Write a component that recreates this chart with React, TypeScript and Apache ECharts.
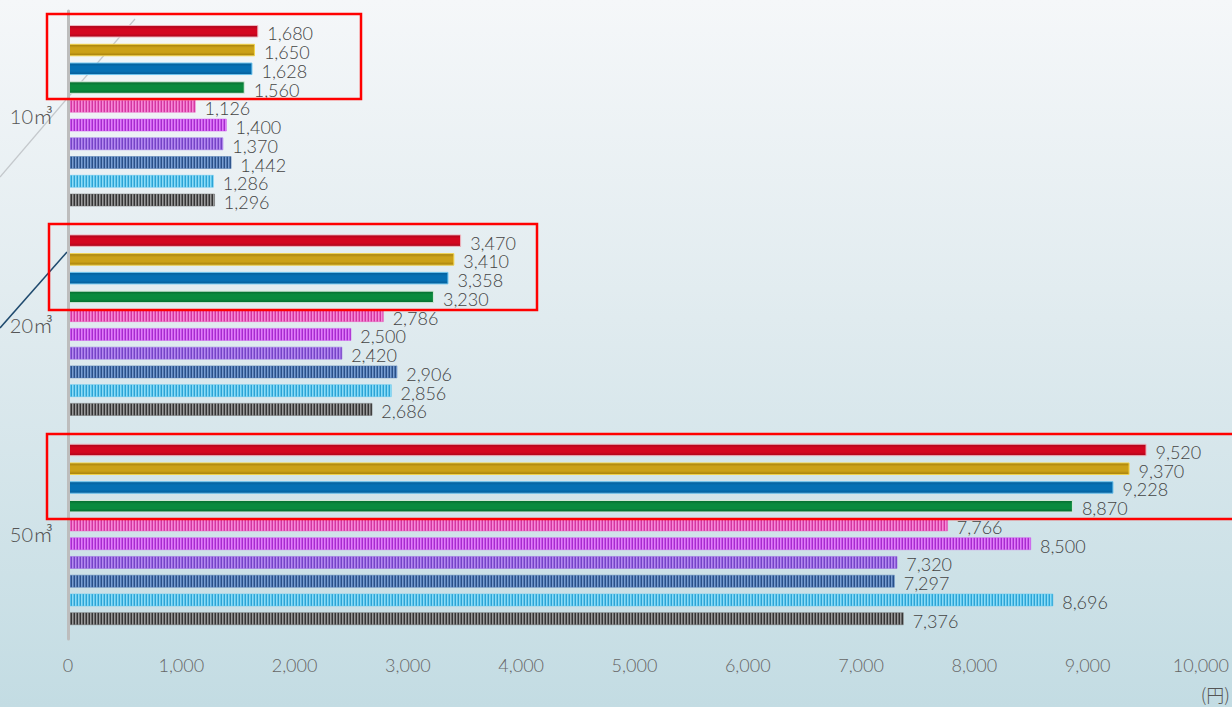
import React, { useEffect, useRef } from "react";
import * as echarts from "echarts";

const categories = ["10㎥", "20㎥", "50㎥"];
const xTicks = [0, 1000, 2000, 3000, 4000, 5000, 6000, 7000, 8000, 9000, 10000];

// one array per bar (top to bottom within each group): values for 10㎥, 20㎥, 50㎥
const barRed = [1680, 3470, 9520];
const barGold = [1650, 3410, 9370];
const barBlue = [1628, 3358, 9228];
const barGreen = [1560, 3230, 8870];
const barPink = [1126, 2786, 7766];
const barMagenta = [1400, 2500, 8500];
const barPurple = [1370, 2420, 7320];
const barNavy = [1442, 2906, 7297];
const barSky = [1286, 2856, 8696];
const barGray = [1296, 2686, 7376];

const unitLabel = "(円)";

const fmt = (v: number) => Number(v).toLocaleString("en-US");

const solidStyles = [
  { data: barRed, c: "#d3061f", d: "#a8041a", b: "#efb8c2" },
  { data: barGold, c: "#cba118", d: "#a07c0c", b: "#f3d34a" },
  { data: barBlue, c: "#0670b4", d: "#055c96", b: "#6cc3ee" },
  { data: barGreen, c: "#0a8a3e", d: "#066a2e", b: "#d8ecdc" },
];
const stripedStyles = [
  { data: barPink, c: "#f58ad6", m: "#ea62c2", s: "#d2379f" },
  { data: barMagenta, c: "#de80f6", m: "#cc55ee", s: "#a62ccc" },
  { data: barPurple, c: "#b48cef", m: "#9a66e2", s: "#7444c4" },
  { data: barNavy, c: "#7a9ed0", m: "#4f78b2", s: "#2a4f86" },
  { data: barSky, c: "#8edcf6", m: "#5cc6ee", s: "#2ea2d2" },
  { data: barGray, c: "#9a9a9a", m: "#6a6a6a", s: "#333333" },
];

const labelStyle = {
  show: true,
  position: "right" as const,
  distance: 9,
  offset: [0, 2],
  formatter: (p: any) => fmt(p.value),
  fontFamily: "Lato, 'Noto Sans', sans-serif",
  fontWeight: 300,
  fontSize: 18,
  color: "#444444",
};

function stripeCanvas(c: string, m: string, s: string) {
  const cv = document.createElement("canvas");
  cv.width = 3;
  cv.height = 16;
  const ctx = cv.getContext("2d")!;
  ctx.fillStyle = c;
  ctx.fillRect(0, 0, 1, 16);
  ctx.fillStyle = m;
  ctx.fillRect(1, 0, 1, 16);
  ctx.fillStyle = s;
  ctx.fillRect(2, 0, 1, 16);
  return cv;
}

export default function App() {
  const ref = useRef<HTMLDivElement>(null);
  useEffect(() => {
    document.body.style.margin = "0";
    if (!ref.current) return;
    const chart = echarts.init(ref.current, null, { renderer: "svg" });
    const series: any[] = [];
    solidStyles.forEach((s, i) => {
      series.push({
        type: "bar",
        name: "s" + i,
        data: s.data,
        barWidth: 12.5,
        barGap: "50%",
        itemStyle: {
          color: new echarts.graphic.LinearGradient(0, 0, 0, 1, [
            { offset: 0, color: s.d },
            { offset: 0.3, color: s.c },
            { offset: 0.7, color: s.c },
            { offset: 1, color: s.d },
          ]),
          borderColor: s.b,
          borderWidth: 1,
        },
        label: labelStyle,
      });
    });
    stripedStyles.forEach((s, i) => {
      const cv = stripeCanvas(s.c, s.m, s.s);
      series.push({
        type: "bar",
        name: "p" + i,
        data: s.data,
        barWidth: 12.5,
        barGap: "50%",
        itemStyle: {
          color: { image: cv, repeat: "repeat", imageWidth: 3, imageHeight: 16 },
          borderColor: s.m,
          borderWidth: 0.5,
        },
        label: labelStyle,
      });
    });
    chart.setOption({
      animation: false,
      backgroundColor: new echarts.graphic.LinearGradient(0, 0, 0, 1, [
        { offset: 0, color: "#f5f7f9" },
        { offset: 0.45, color: "#e0ebef" },
        { offset: 1, color: "#c3dce3" },
      ]),
      grid: { left: 68, right: 30, top: 11, bottom: 68, containLabel: false },
      xAxis: {
        type: "value",
        min: xTicks[0],
        max: xTicks[xTicks.length - 1],
        interval: xTicks[1] - xTicks[0],
        axisLine: { show: false },
        axisTick: { show: false },
        splitLine: { show: false },
        axisLabel: {
          formatter: (v: number) => fmt(v),
          fontFamily: "Lato, 'Noto Sans', sans-serif",
          fontWeight: 300,
          fontSize: 18,
          color: "#666666",
          margin: 17,
        },
      },
      yAxis: {
        type: "category",
        inverse: true,
        z: 10,
        data: categories,
        axisLine: { show: true, lineStyle: { color: "#bdbdbd", width: 3 } },
        axisTick: { show: false },
        splitLine: { show: false },
        axisLabel: {
          fontFamily: "Lato, 'Noto Sans CJK JP', sans-serif",
          fontWeight: 300,
          fontSize: 20,
          color: "#555555",
          margin: 15,
        },
      },
      graphic: [
        {
          type: "line",
          z: 0,
          shape: { x1: 0, y1: 177, x2: 135, y2: 19 },
          style: { stroke: "#c4c8cc", lineWidth: 1.2 },
        },
        {
          type: "line",
          z: 0,
          shape: { x1: 0, y1: 328, x2: 67, y2: 252 },
          style: { stroke: "#1f4a6e", lineWidth: 1.5 },
        },
        {
          type: "rect",
          z: 100,
          shape: { x: 47, y: 14, width: 314, height: 85 },
          style: { fill: "none", stroke: "#ff0000", lineWidth: 2.5 },
        },
        {
          type: "rect",
          z: 100,
          shape: { x: 49, y: 224, width: 488, height: 86 },
          style: { fill: "none", stroke: "#ff0000", lineWidth: 2.5 },
        },
        {
          type: "rect",
          z: 100,
          shape: { x: 47, y: 434, width: 1200, height: 85 },
          style: { fill: "none", stroke: "#ff0000", lineWidth: 2.5 },
        },
        {
          type: "text",
          z: 100,
          right: 2,
          top: 685,
          style: {
            text: unitLabel,
            font: "300 18px 'Noto Sans CJK JP', sans-serif",
            fill: "#555555",
          },
        },
      ],
      series,
    });
    return () => chart.dispose();
  }, []);
  return <div ref={ref} style={{ width: 1232, height: 707 }} />;
}
